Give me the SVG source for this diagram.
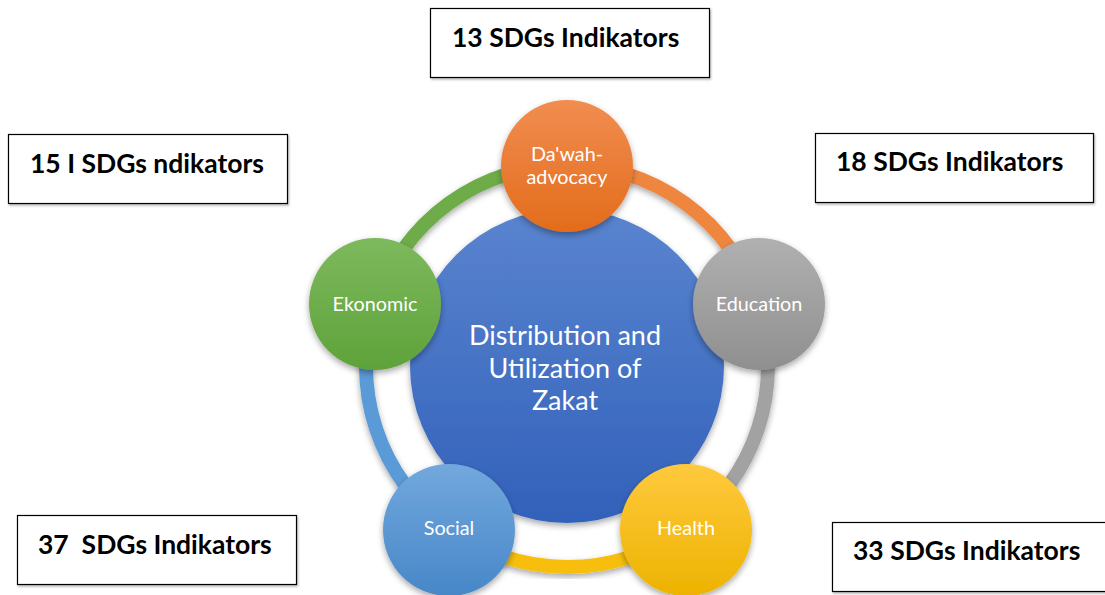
<svg xmlns="http://www.w3.org/2000/svg" width="1105" height="595" viewBox="0 0 1105 595">
<defs>
<style>
.box{fill:#fff;stroke:#000;stroke-width:1.2}
.bt{font-family:Lato,"Liberation Sans",sans-serif;font-weight:bold;font-size:26.5px;fill:#000}
.ct{font-family:Lato,"Liberation Sans",sans-serif;font-size:19.8px;fill:#fff;text-anchor:middle}
.mt{font-family:Lato,"Liberation Sans",sans-serif;font-size:27px;fill:#fff;text-anchor:middle}
.arc{fill:none;stroke-width:14}
</style>
<filter id="sh" x="-20%" y="-20%" width="140%" height="150%">
<feDropShadow dx="0" dy="3" stdDeviation="3" flood-color="#000" flood-opacity="0.35"/>
</filter>
<filter id="bsh" x="-5%" y="-5%" width="110%" height="120%">
<feDropShadow dx="1" dy="1.5" stdDeviation="0.8" flood-color="#000" flood-opacity="0.3"/>
</filter>
<linearGradient id="gO" x1="0" y1="0" x2="0" y2="1"><stop offset="0" stop-color="#F18D50"/><stop offset="1" stop-color="#E36C1C"/></linearGradient>
<linearGradient id="gG" x1="0" y1="0" x2="0" y2="1"><stop offset="0" stop-color="#B0B0B0"/><stop offset="1" stop-color="#8F8F8F"/></linearGradient>
<linearGradient id="gY" x1="0" y1="0" x2="0" y2="1"><stop offset="0" stop-color="#FFC93E"/><stop offset="1" stop-color="#EDB300"/></linearGradient>
<linearGradient id="gB" x1="0" y1="0" x2="0" y2="1"><stop offset="0" stop-color="#72A8DD"/><stop offset="1" stop-color="#4787C8"/></linearGradient>
<linearGradient id="gN" x1="0" y1="0" x2="0" y2="1"><stop offset="0" stop-color="#7DB95D"/><stop offset="1" stop-color="#5FA23A"/></linearGradient>
<linearGradient id="gC" x1="0" y1="0" x2="0" y2="1"><stop offset="0" stop-color="#5A84CF"/><stop offset="1" stop-color="#3261BA"/></linearGradient>
</defs>

<g id="connectors">
<path class="arc" stroke="#EF8641" filter="url(#sh)" d="M 567 165 A 201 201 0 0 1 758.2 303.9"/>
<path class="arc" stroke="#A2A2A2" filter="url(#sh)" d="M 758.2 303.9 A 201 201 0 0 1 685.1 528.6"/>
<path class="arc" stroke="#F7BE10" filter="url(#sh)" d="M 685.1 528.6 A 201 201 0 0 1 448.9 528.6"/>
<path class="arc" stroke="#5A9AD6" filter="url(#sh)" d="M 448.9 528.6 A 201 201 0 0 1 375.8 303.9"/>
<path class="arc" stroke="#6DAC48" filter="url(#sh)" d="M 375.8 303.9 A 201 201 0 0 1 567 165"/>
</g>

<g id="center">
<circle cx="567" cy="366" r="157" fill="url(#gC)" filter="url(#sh)"/>
<text class="mt" x="565" y="345">Distribution and</text>
<text class="mt" x="565" y="378">Utilization of</text>
<text class="mt" x="565" y="410">Zakat</text>
</g>

<g id="dawah">
<circle cx="567" cy="166" r="66" fill="url(#gO)" filter="url(#sh)"/>
<text class="ct" x="567" y="161">Da'wah-</text>
<text class="ct" x="567" y="184">advocacy</text>
</g>
<g id="education">
<circle cx="759" cy="304" r="66" fill="url(#gG)" filter="url(#sh)"/>
<text class="ct" x="759" y="311">Education</text>
</g>
<g id="health">
<circle cx="686" cy="530" r="66" fill="url(#gY)" filter="url(#sh)"/>
<text class="ct" x="686" y="535">Health</text>
</g>
<g id="social">
<circle cx="449" cy="530" r="66" fill="url(#gB)" filter="url(#sh)"/>
<text class="ct" x="449" y="535">Social</text>
</g>
<g id="ekonomic">
<circle cx="375" cy="304" r="66" fill="url(#gN)" filter="url(#sh)"/>
<text class="ct" x="375" y="311">Ekonomic</text>
</g>

<g id="box13">
<rect class="box" x="430.5" y="8.5" width="279" height="69" filter="url(#bsh)"/>
<text class="bt" x="452" y="47">13 SDGs Indikators</text>
</g>
<g id="box15">
<rect class="box" x="8.5" y="134.5" width="279" height="69" filter="url(#bsh)"/>
<text class="bt" x="30" y="173">15 I SDGs ndikators</text>
</g>
<g id="box18">
<rect class="box" x="815.5" y="133.5" width="278" height="69" filter="url(#bsh)"/>
<text class="bt" x="836" y="171">18 SDGs Indikators</text>
</g>
<g id="box37">
<rect class="box" x="17.5" y="515.5" width="279" height="69" filter="url(#bsh)"/>
<text class="bt" x="38" y="554" xml:space="preserve">37  SDGs Indikators</text>
</g>
<g id="box33">
<rect class="box" x="832.5" y="522.5" width="279" height="69" filter="url(#bsh)"/>
<text class="bt" x="853" y="560">33 SDGs Indikators</text>
</g>
</svg>
